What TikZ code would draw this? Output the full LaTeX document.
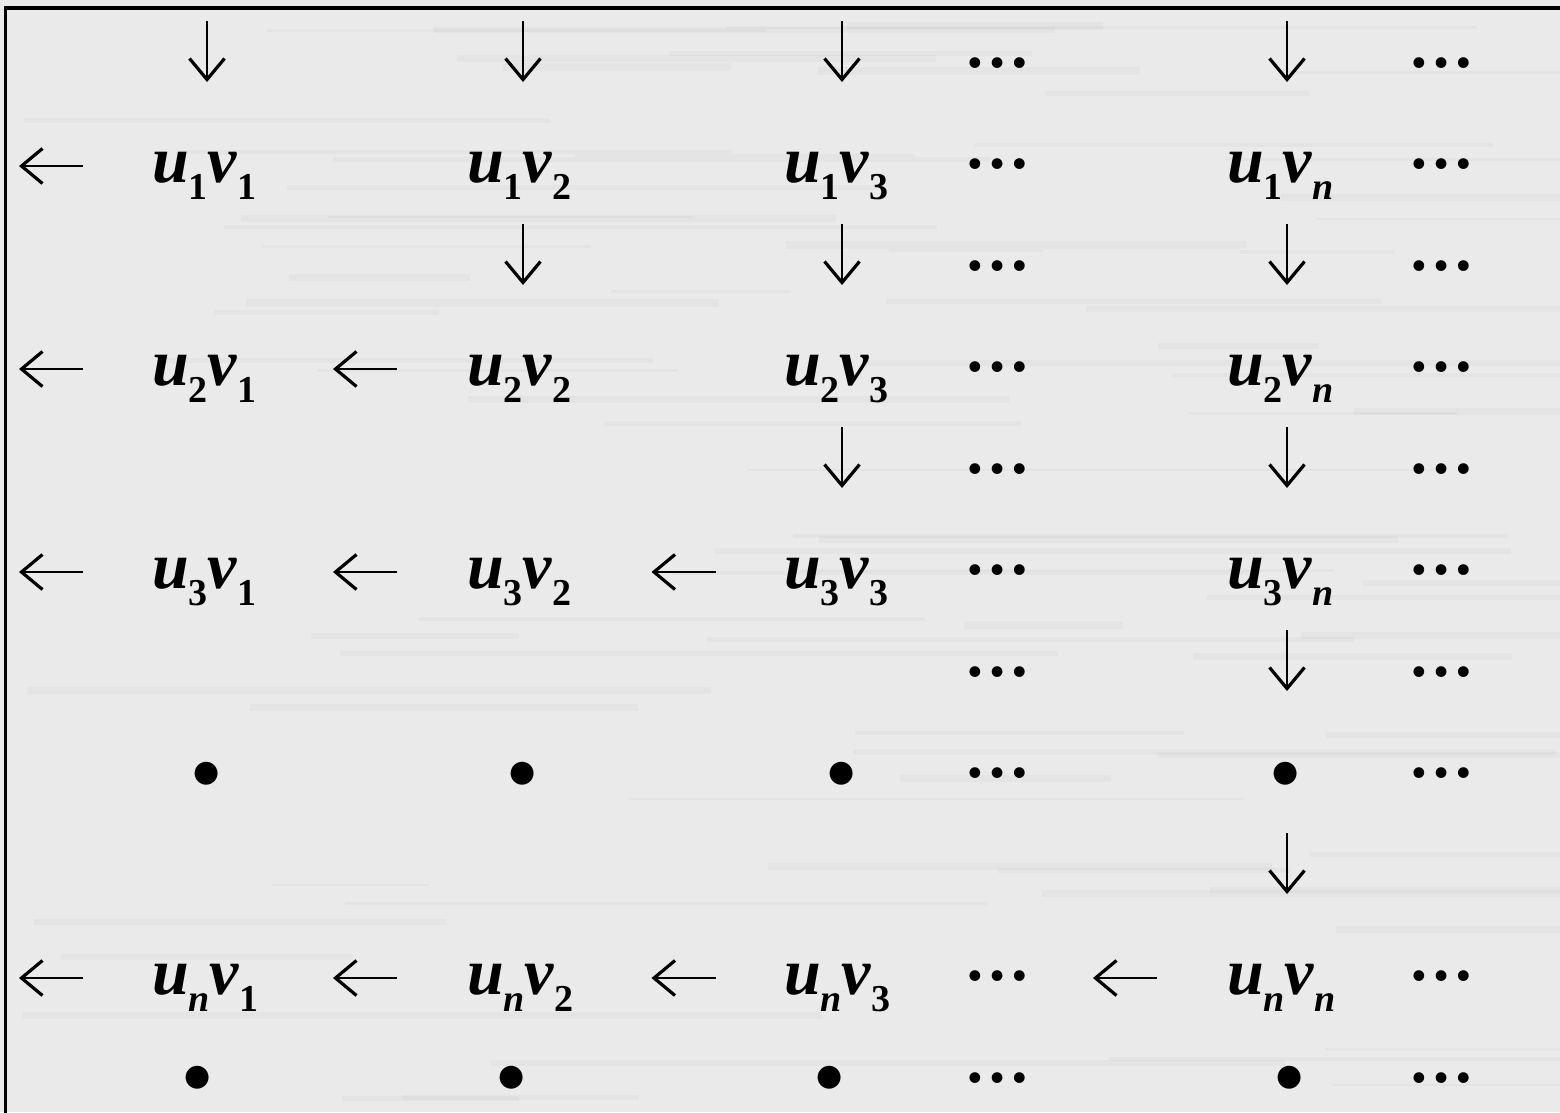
\documentclass[tikz,border=0pt]{standalone}
\usepackage{fontspec}
\setmainfont{Liberation Serif}
\newfontfamily\dotfont{DejaVu Sans}
\usetikzlibrary{arrows.meta}
\definecolor{bgc}{RGB}{234,234,234}
\newcommand\subx[1]{\raisebox{-17pt}{\fontsize{38}{40}\selectfont #1}}
\newcommand\uvlabel[2]{\textit{u}\subx{#1}\textit{v}\subx{#2}}
\tikzset{
  every node/.style={inner sep=0pt, outer sep=0pt},
  term/.style={font=\fontsize{66}{70}\selectfont\bfseries, anchor=base west},
  ell/.style={font=\fontsize{66}{70}\selectfont\bfseries, anchor=center},
  blt/.style={font=\dotfont\fontsize{30}{32}\selectfont, anchor=center},
  arr/.style={line width=2.8pt, -{Straight Barb[length=21pt,width=35pt,line width=3.2pt]}},
  frame/.style={line width=3.5pt}
}
\begin{document}
\begin{tikzpicture}[x=1pt,y=-1pt]
\useasboundingbox (0,0) rectangle (1560,1112);
\fill[bgc] (0,0) rectangle (1560,1112);
% faint horizontal streaks of the background texture
\pgfmathsetseed{11}
\foreach \k in {1,...,160}{
  \pgfmathsetmacro\sy{rnd*1112}
  \pgfmathsetmacro\sx{rnd*1400}
  \pgfmathsetmacro\sw{150+rnd*700}
  \pgfmathsetmacro\sh{2+rnd*6}
  \pgfmathparse{rnd>0.5?"white":"black"}
  \fill[\pgfmathresult, opacity=0.025] (\sx,\sy) rectangle (\sx+\sw,\sy+\sh);
}
\draw[frame] (5.3,1115) -- (5.3,8) -- (1565,8);
% down arrows
\foreach \r/\x [count=\i] in {0/207,0/523,0/842,0/1287,2/523,2/842,2/1287,4/842,4/1287,6/1287,8/1287}{
  \pgfmathsetmacro\yy{63+101.5*\r}
  \coordinate (ds\i) at (\x,\yy-42);
  \coordinate (de\i) at (\x,\yy+19);
  \draw[arr] (ds\i) -- (de\i);
}
% left arrows
\foreach \r/\x [count=\i] in {1/51,3/51,3/365,5/51,5/365,5/683.5,9/51,9/365,9/683.5,9/1125}{
  \pgfmathsetmacro\yy{63+101.5*\r+1.5}
  \coordinate (ls\i) at (\x+32,\yy);
  \coordinate (le\i) at (\x-32,\yy);
  \draw[arr] (ls\i) -- (le\i);
}
% ellipses
\foreach \r [count=\i] in {0,1,2,3,4,5,6,7,9,10}{
  \pgfmathsetmacro\yy{63+101.5*\r}
  \node[ell] (ea\i) at (997,\yy) {…};
  \node[ell] (eb\i) at (1441,\yy) {…};
}
% bullets
\foreach \x/\y [count=\i] in {207/773.5,523/773.5,842/773.5,1286/773.5,198/1078,512/1078,830/1078,1290/1078}{
  \node[blt] (b\i) at (\x,\y) {●};
}
% terms
\node[term] (u1v1) at (152,182) {\uvlabel{1}{1}};
\node[term] (u1v2) at (467,182) {\uvlabel{1}{2}};
\node[term] (u1v3) at (784,182) {\uvlabel{1}{3}};
\node[term] (u1vn) at (1227,182) {\uvlabel{1}{\textit{n}}};
\node[term] (u2v1) at (152,385) {\uvlabel{2}{1}};
\node[term] (u2v2) at (467,385) {\uvlabel{2}{2}};
\node[term] (u2v3) at (784,385) {\uvlabel{2}{3}};
\node[term] (u2vn) at (1227,385) {\uvlabel{2}{\textit{n}}};
\node[term] (u3v1) at (152,588) {\uvlabel{3}{1}};
\node[term] (u3v2) at (467,588) {\uvlabel{3}{2}};
\node[term] (u3v3) at (784,588) {\uvlabel{3}{3}};
\node[term] (u3vn) at (1227,588) {\uvlabel{3}{\textit{n}}};
\node[term] (unv1) at (152,994) {\uvlabel{\textit{n}}{1}};
\node[term] (unv2) at (467,994) {\uvlabel{\textit{n}}{2}};
\node[term] (unv3) at (784,994) {\uvlabel{\textit{n}}{3}};
\node[term] (unvn) at (1227,994) {\uvlabel{\textit{n}}{\textit{n}}};
\end{tikzpicture}
\end{document}
